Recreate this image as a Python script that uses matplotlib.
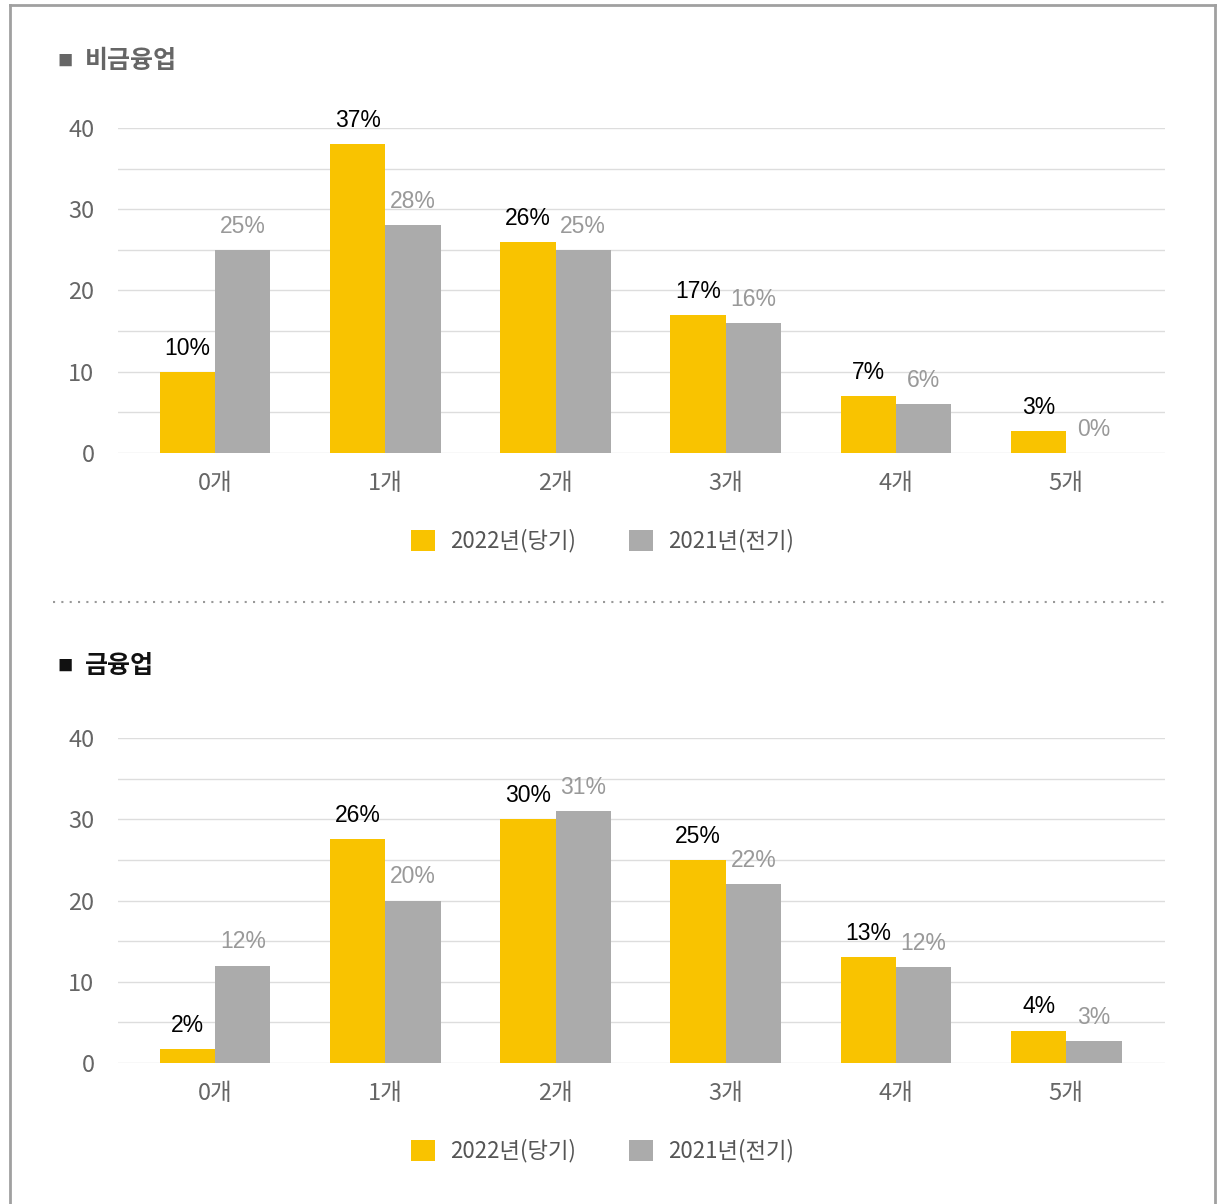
import matplotlib
matplotlib.use("Agg")
import matplotlib.pyplot as plt
import numpy as np
from matplotlib.lines import Line2D

plt.rcParams['font.family'] = ['Noto Sans CJK KR', 'DejaVu Sans']

categories = ['0개', '1개', '2개', '3개', '4개', '5개']
series_names = ['2022년(당기)', '2021년(전기)']

# 비금융업
nonfin_cur = [10, 38, 26, 17, 7, 2.7]
nonfin_prev = [25, 28, 25, 16, 6, 0]
nonfin_cur_lbl = ['10%', '37%', '26%', '17%', '7%', '3%']
nonfin_prev_lbl = ['25%', '28%', '25%', '16%', '6%', '0%']

# 금융업
fin_cur = [1.7, 27.6, 30, 25, 13, 4]
fin_prev = [12, 20, 31, 22, 11.8, 2.7]
fin_cur_lbl = ['2%', '26%', '30%', '25%', '13%', '4%']
fin_prev_lbl = ['12%', '20%', '31%', '22%', '12%', '3%']

yellow = '#F9C300'
gray = '#ABABAB'

W, H = 1217, 1204
fig = plt.figure(figsize=(W / 100, H / 100), dpi=100)


def panel(y0_px, y40_px, cur, prev, cur_lbl, prev_lbl, title, title_y, title_color, legend_y):
    ax = fig.add_axes([118 / W, 1 - y0_px / H, (1165 - 118) / W, (y0_px - y40_px) / H])
    x = np.arange(len(categories))
    bw = 0.325
    ax.bar(x - bw / 2, cur, bw, color=yellow, zorder=3, label=series_names[0])
    ax.bar(x + bw / 2, prev, bw, color=gray, zorder=3, label=series_names[1])
    for i in range(len(categories)):
        ax.text(x[i] - bw / 2, cur[i] + 1.5, cur_lbl[i], ha='center', va='bottom',
                fontsize=16.5, color='black', family=['Liberation Sans'])
        ax.text(x[i] + bw / 2, prev[i] + 1.5, prev_lbl[i], ha='center', va='bottom',
                fontsize=16.5, color='#999999', family=['Liberation Sans'])
    ax.set_xlim(-0.57, 5.58)
    ax.set_ylim(0, 40)
    ax.set_yticks([0, 10, 20, 30, 40])
    ax.set_yticks([5, 15, 25, 35], minor=True)
    ax.grid(axis='y', which='both', color='#dddddd', lw=1, zorder=0)
    ax.set_xticks(x)
    ax.set_xticklabels(categories)
    for s in ['top', 'right', 'left', 'bottom']:
        ax.spines[s].set_visible(False)
    ax.tick_params(axis='both', which='both', length=0, labelsize=17, colors='#666666')
    ax.tick_params(axis='y', pad=17)
    ax.tick_params(axis='x', pad=14)
    # title
    fig.text(57 / W, 1 - title_y / H, '■', fontsize=11, color=title_color, va='center')
    fig.text(85 / W, 1 - title_y / H, title, fontsize=18, fontweight='bold',
             color=title_color, va='center')
    leg = ax.legend(loc='center', bbox_to_anchor=(0.463, 1 - (legend_y - y40_px) / (y0_px - y40_px)),
                    ncol=2, frameon=False, fontsize=16, handlelength=1.05, handleheight=1.05,
                    columnspacing=2.4, handletextpad=0.7)
    for t in leg.get_texts():
        t.set_color('#555555')
    return ax


panel(453, 128, nonfin_cur, nonfin_prev, nonfin_cur_lbl, nonfin_prev_lbl,
      '비금융업', 61, '#666666', 541)
panel(1063, 738, fin_cur, fin_prev, fin_cur_lbl, fin_prev_lbl,
      '금융업', 666, '#111111', 1151)

# dotted separator
fig.add_artist(Line2D([53 / W, 1168 / W], [1 - 602 / H, 1 - 602 / H], color='#999999',
                      lw=1.5, linestyle=(0, (1, 3))))
# outer frame
frame = '#a0a0a0'
fig.add_artist(Line2D([10 / W, 10 / W], [0, 1 - 5 / H], color=frame, lw=2))
fig.add_artist(Line2D([10 / W, 1215 / W], [1 - 5 / H, 1 - 5 / H], color=frame, lw=2))
fig.add_artist(Line2D([1215 / W, 1215 / W], [0, 1 - 5 / H], color=frame, lw=2))

fig.savefig('out.png', dpi=100)
